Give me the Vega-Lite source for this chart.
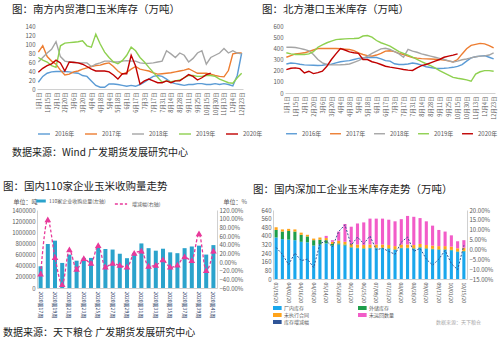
{
  "$schema": "https://vega.github.io/schema/vega-lite/v6.json",
  "padding": {"left": 3, "top": 4, "right": 2, "bottom": 2},
  "background": "white",
  "config": {
    "font": "Noto Sans CJK SC",
    "view": {"stroke": null},
    "axis": {"labelFontSize": 6, "labelColor": "#595959", "domainColor": "#d0d0d0", "tickColor": "#d0d0d0", "grid": false, "titleFontSize": 6, "titleFontWeight": "normal", "titleColor": "#595959"},
    "legend": {"labelFontSize": 6, "labelColor": "#595959"},
    "title": {"fontSize": 10.5, "fontWeight": "normal", "color": "#222222", "anchor": "start", "frame": "group"}
  },
  "datasets": {
    "south": [
      {"d":"1月1日","2016年":15,"2017年":82,"2018年":60,"2019年":70,"2020年":37},
      {"d":"1月8日","2016年":28,"2017年":96,"2018年":70,"2019年":64,"2020年":46},
      {"d":"1月15日","2016年":35,"2017年":72,"2018年":80,"2019年":60,"2020年":52},
      {"d":"1月22日","2016年":38,"2017年":62,"2018年":88,"2019年":52,"2020年":56},
      {"d":"2月1日","2016年":39,"2017年":55,"2018年":105,"2019年":48,"2020年":64},
      {"d":"2月10日","2016年":39,"2017年":42,"2018年":72,"2019年":96,"2020年":58},
      {"d":"2月20日","2016年":39,"2017年":31,"2018年":62,"2019年":102,"2020年":40},
      {"d":"2月27日","2016年":38,"2017年":33,"2018年":60,"2019年":103,"2020年":60},
      {"d":"3月6日","2016年":36,"2017年":38,"2018年":60,"2019年":104,"2020年":59},
      {"d":"3月13日","2016年":35,"2017年":40,"2018年":58,"2019年":105,"2020年":58},
      {"d":"3月20日","2016年":30,"2017年":44,"2018年":58,"2019年":107,"2020年":55},
      {"d":"3月27日","2016年":28,"2017年":47,"2018年":58,"2019年":96,"2020年":50},
      {"d":"4月4日","2016年":18,"2017年":50,"2018年":50,"2019年":93,"2020年":44},
      {"d":"4月11日","2016年":8,"2017年":52,"2018年":55,"2019年":122,"2020年":40},
      {"d":"4月18日","2016年":4,"2017年":53,"2018年":58,"2019年":100,"2020年":40},
      {"d":"4月25日","2016年":4,"2017年":56,"2018年":62,"2019年":82,"2020年":40},
      {"d":"5月4日","2016年":11,"2017年":58,"2018年":62,"2019年":70,"2020年":38},
      {"d":"5月11日","2016年":11,"2017年":50,"2018年":60,"2019年":60,"2020年":31},
      {"d":"5月18日","2016年":10,"2017年":40,"2018年":60,"2019年":56,"2020年":22},
      {"d":"5月25日","2016年":8,"2017年":33,"2018年":62,"2019年":63,"2020年":34},
      {"d":"6月1日","2016年":6,"2017年":37,"2018年":63,"2019年":75,"2020年":34},
      {"d":"6月8日","2016年":8,"2017年":44,"2018年":62,"2019年":93,"2020年":75},
      {"d":"6月17日","2016年":6,"2017年":50,"2018年":62,"2019年":85,"2020年":51},
      {"d":"6月24日","2016年":10,"2017年":44,"2018年":58,"2019年":70,"2020年":11},
      {"d":"7月3日","2016年":15,"2017年":42,"2018年":57,"2019年":60,"2020年":18},
      {"d":"7月10日","2016年":22,"2017年":40,"2018年":57,"2019年":48,"2020年":22},
      {"d":"7月17日","2016年":28,"2017年":36,"2018年":58,"2019年":37,"2020年":18},
      {"d":"7月24日","2016年":30,"2017年":33,"2018年":60,"2019年":26,"2020年":14},
      {"d":"7月31日","2016年":28,"2017年":34,"2018年":62,"2019年":15,"2020年":14},
      {"d":"8月7日","2016年":22,"2017年":35,"2018年":85,"2019年":18,"2020年":18},
      {"d":"8月14日","2016年":15,"2017年":36,"2018年":78,"2019年":16,"2020年":14},
      {"d":"8月21日","2016年":12,"2017年":38,"2018年":70,"2019年":18,"2020年":18},
      {"d":"8月28日","2016年":10,"2017年":40,"2018年":80,"2019年":20,"2020年":18},
      {"d":"9月4日","2016年":8,"2017年":42,"2018年":75,"2019年":25,"2020年":25},
      {"d":"9月11日","2016年":10,"2017年":45,"2018年":60,"2019年":30,"2020年":32},
      {"d":"9月18日","2016年":10,"2017年":40,"2018年":68,"2019年":30,"2020年":28},
      {"d":"9月25日","2016年":12,"2017年":35,"2018年":80,"2019年":28,"2020年":20},
      {"d":"10月8日","2016年":12,"2017年":35,"2018年":85,"2019年":28,"2020年":25},
      {"d":"10月15日","2016年":10,"2017年":35,"2018年":55,"2019年":30,"2020年":32},
      {"d":"10月23日","2016年":10,"2017年":33,"2018年":70,"2019年":30,"2020年":35},
      {"d":"10月30日","2016年":12,"2017年":30,"2018年":75,"2019年":28},
      {"d":"11月6日","2016年":10,"2017年":28,"2018年":80,"2019年":22},
      {"d":"11月13日","2016年":12,"2017年":27,"2018年":90,"2019年":18},
      {"d":"11月20日","2016年":10,"2017年":41,"2018年":80,"2019年":14},
      {"d":"12月4日","2016年":7,"2017年":78,"2018年":85,"2019年":13},
      {"d":"12月11日","2016年":30,"2017年":80,"2018年":80,"2019年":25},
      {"d":"12月23日","2016年":80,"2017年":80,"2018年":78,"2019年":35}
    ],
    "north": [
      {"d":"1月1日","2016年":260,"2017年":320,"2018年":410,"2019年":360,"2020年":210},
      {"d":"1月8日","2016年":268,"2017年":335,"2018年":410,"2019年":350,"2020年":222},
      {"d":"1月15日","2016年":265,"2017年":350,"2018年":408,"2019年":345,"2020年":225},
      {"d":"1月22日","2016年":258,"2017年":355,"2018年":400,"2019年":345,"2020年":218},
      {"d":"2月1日","2016年":252,"2017年":360,"2018年":390,"2019年":345,"2020年":180},
      {"d":"2月10日","2016年":250,"2017年":372,"2018年":378,"2019年":350,"2020年":195},
      {"d":"2月20日","2016年":248,"2017年":385,"2018年":345,"2019年":370,"2020年":174},
      {"d":"2月27日","2016年":246,"2017年":398,"2018年":300,"2019年":410,"2020年":182},
      {"d":"3月6日","2016年":248,"2017年":399,"2018年":270,"2019年":430,"2020年":195},
      {"d":"3月13日","2016年":255,"2017年":399,"2018年":255,"2019年":450,"2020年":240},
      {"d":"3月20日","2016年":258,"2017年":398,"2018年":252,"2019年":465,"2020年":300},
      {"d":"3月27日","2016年":270,"2017年":398,"2018年":252,"2019年":478,"2020年":350},
      {"d":"4月4日","2016年":280,"2017年":396,"2018年":253,"2019年":482,"2020年":398},
      {"d":"4月11日","2016年":285,"2017年":393,"2018年":255,"2019年":485,"2020年":385},
      {"d":"4月18日","2016年":290,"2017年":390,"2018年":260,"2019年":487,"2020年":368},
      {"d":"4月25日","2016年":300,"2017年":380,"2018年":275,"2019年":488,"2020年":360},
      {"d":"5月4日","2016年":310,"2017年":360,"2018年":290,"2019年":490,"2020年":355},
      {"d":"5月11日","2016年":315,"2017年":345,"2018年":310,"2019年":510,"2020年":300},
      {"d":"5月18日","2016年":318,"2017年":335,"2018年":330,"2019年":515,"2020年":300},
      {"d":"5月25日","2016年":320,"2017年":330,"2018年":355,"2019年":500,"2020年":280},
      {"d":"6月1日","2016年":318,"2017年":340,"2018年":375,"2019年":470,"2020年":270},
      {"d":"6月8日","2016年":305,"2017年":355,"2018年":395,"2019年":450,"2020年":255},
      {"d":"6月17日","2016年":290,"2017年":375,"2018年":400,"2019年":435,"2020年":240},
      {"d":"6月24日","2016年":285,"2017年":378,"2018年":390,"2019年":420,"2020年":232},
      {"d":"7月3日","2016年":262,"2017年":370,"2018年":370,"2019年":395,"2020年":225},
      {"d":"7月10日","2016年":255,"2017年":355,"2018年":350,"2019年":370,"2020年":218},
      {"d":"7月17日","2016年":255,"2017年":345,"2018年":320,"2019年":355,"2020年":210},
      {"d":"7月24日","2016年":260,"2017年":330,"2018年":390,"2019年":340,"2020年":205},
      {"d":"7月31日","2016年":268,"2017年":318,"2018年":375,"2019年":322,"2020年":202},
      {"d":"8月7日","2016年":262,"2017年":312,"2018年":365,"2019年":300,"2020年":225},
      {"d":"8月14日","2016年":250,"2017年":308,"2018年":350,"2019年":280,"2020年":245},
      {"d":"8月21日","2016年":235,"2017年":306,"2018年":340,"2019年":262,"2020年":255},
      {"d":"8月28日","2016年":228,"2017年":304,"2018年":330,"2019年":245,"2020年":270},
      {"d":"9月4日","2016年":222,"2017年":302,"2018年":320,"2019年":225,"2020年":285},
      {"d":"9月11日","2016年":220,"2017年":300,"2018年":310,"2019年":200,"2020年":300},
      {"d":"9月18日","2016年":222,"2017年":295,"2018年":300,"2019年":180,"2020年":320},
      {"d":"9月25日","2016年":225,"2017年":288,"2018年":288,"2019年":160,"2020年":330},
      {"d":"10月8日","2016年":230,"2017年":278,"2018年":278,"2019年":140,"2020年":339},
      {"d":"10月15日","2016年":238,"2017年":300,"2018年":285,"2019年":132,"2020年":350},
      {"d":"10月23日","2016年":255,"2017年":350,"2018年":298,"2019年":125},
      {"d":"10月30日","2016年":285,"2017年":396,"2018年":305,"2019年":118},
      {"d":"11月6日","2016年":315,"2017年":426,"2018年":315,"2019年":105},
      {"d":"11月13日","2016年":325,"2017年":435,"2018年":325,"2019年":170},
      {"d":"11月20日","2016年":330,"2017年":444,"2018年":330,"2019年":190},
      {"d":"12月4日","2016年":335,"2017年":440,"2018年":332,"2019年":200},
      {"d":"12月11日","2016年":320,"2017年":425,"2018年":340,"2019年":200},
      {"d":"12月23日","2016年":305,"2017年":405,"2018年":360,"2019年":195}
    ],
    "buy": [
      {"w":"2020第17周","收购量":390000,"增减幅":-0.28},
      {"w":"2020第18周","收购量":790000,"增减幅":0.97},
      {"w":"2020第19周","收购量":850000,"增减幅":0.10},
      {"w":"2020第20周","收购量":450000,"增减幅":-0.52},
      {"w":"2020第21周","收购量":600000,"增减幅":0.28},
      {"w":"2020第22周","收购量":490000,"增减幅":-0.17},
      {"w":"2020第23周","收购量":540000,"增减幅":0.08},
      {"w":"2020第24周","收购量":540000,"增减幅":-0.03},
      {"w":"2020第25周","收购量":730000,"增减幅":0.38},
      {"w":"2020第26周","收购量":700000,"增减幅":-0.12},
      {"w":"2020第27周","收购量":690000,"增减幅":-0.03},
      {"w":"2020第28周","收购量":615000,"增减幅":-0.08},
      {"w":"2020第29周","收购量":535000,"增减幅":-0.12},
      {"w":"2020第30周","收购量":630000,"增减幅":0.20},
      {"w":"2020第31周","收购量":800000,"增减幅":0.25},
      {"w":"2020第32周","收购量":715000,"增减幅":-0.10},
      {"w":"2020第33周","收购量":670000,"增减幅":-0.08},
      {"w":"2020第34周","收购量":705000,"增减幅":0.05},
      {"w":"2020第35周","收购量":640000,"增减幅":-0.12},
      {"w":"2020第36周","收购量":625000,"增减幅":-0.07},
      {"w":"2020第37周","收购量":715000,"增减幅":0.12},
      {"w":"2020第38周","收购量":745000,"增减幅":0.03},
      {"w":"2020第39周","收购量":760000,"增减幅":0.65},
      {"w":"2020第40周","收购量":600000,"增减幅":-0.20},
      {"w":"2020第41周","收购量":770000,"增减幅":0.25}
    ],
    "deep": [
      {"d":"03/19/20","厂内库存":385,"外储库存":70,"未执行合同":25,"未运回数量":0,"增减幅":0.01},
      {"d":"03/26/20","厂内库存":370,"外储库存":70,"未执行合同":20,"未运回数量":0,"增减幅":-0.025},
      {"d":"04/02/20","厂内库存":365,"外储库存":80,"未执行合同":20,"未运回数量":0,"增减幅":-0.077},
      {"d":"04/09/20","厂内库存":360,"外储库存":80,"未执行合同":20,"未运回数量":0,"增减幅":-0.018},
      {"d":"04/16/20","厂内库存":345,"外储库存":65,"未执行合同":20,"未运回数量":0,"增减幅":-0.057},
      {"d":"04/23/20","厂内库存":340,"外储库存":55,"未执行合同":15,"未运回数量":0,"增减幅":-0.049},
      {"d":"04/30/20","厂内库存":310,"外储库存":50,"未执行合同":15,"未运回数量":0,"增减幅":-0.092},
      {"d":"05/07/20","厂内库存":320,"外储库存":45,"未执行合同":20,"未运回数量":0,"增减幅":0.029},
      {"d":"05/14/20","厂内库存":330,"外储库存":30,"未执行合同":20,"未运回数量":20,"增减幅":0.044},
      {"d":"05/21/20","厂内库存":310,"外储库存":15,"未执行合同":20,"未运回数量":15,"增减幅":0.013},
      {"d":"05/28/20","厂内库存":320,"外储库存":10,"未执行合同":25,"未运回数量":85,"增减幅":0.091},
      {"d":"06/04/20","厂内库存":310,"外储库存":10,"未执行合同":25,"未运回数量":165,"增减幅":0.125},
      {"d":"06/11/20","厂内库存":290,"外储库存":5,"未执行合同":30,"未运回数量":160,"增减幅":0.021},
      {"d":"06/18/20","厂内库存":285,"外储库存":5,"未执行合同":30,"未运回数量":195,"增减幅":0.063},
      {"d":"06/25/20","厂内库存":280,"外储库存":5,"未执行合同":30,"未运回数量":210,"增减幅":0.029},
      {"d":"07/02/20","厂内库存":285,"外储库存":5,"未执行合同":30,"未运回数量":240,"增减幅":0.068},
      {"d":"07/09/20","厂内库存":285,"外储库存":5,"未执行合同":30,"未运回数量":240,"增减幅":-0.002},
      {"d":"07/16/20","厂内库存":285,"外储库存":5,"未执行合同":30,"未运回数量":240,"增减幅":0.006},
      {"d":"07/23/20","厂内库存":280,"外储库存":5,"未执行合同":30,"未运回数量":235,"增减幅":-0.01},
      {"d":"07/30/20","厂内库存":270,"外储库存":5,"未执行合同":30,"未运回数量":230,"增减幅":-0.025},
      {"d":"08/06/20","厂内库存":285,"外储库存":5,"未执行合同":30,"未运回数量":235,"增减幅":0.037},
      {"d":"08/13/20","厂内库存":285,"外储库存":5,"未执行合同":30,"未运回数量":265,"增减幅":0.063},
      {"d":"08/20/20","厂内库存":280,"外储库存":5,"未执行合同":30,"未运回数量":262,"增减幅":-0.01},
      {"d":"08/27/20","厂内库存":290,"外储库存":5,"未执行合同":30,"未运回数量":240,"增减幅":0.006},
      {"d":"09/03/20","厂内库存":280,"外储库存":5,"未执行合同":30,"未运回数量":220,"增减幅":-0.049},
      {"d":"09/10/20","厂内库存":275,"外储库存":5,"未执行合同":30,"未运回数量":185,"增减幅":-0.08},
      {"d":"09/17/20","厂内库存":270,"外储库存":5,"未执行合同":30,"未运回数量":150,"增减幅":-0.049},
      {"d":"09/24/20","厂内库存":270,"外储库存":5,"未执行合同":30,"未运回数量":135,"增减幅":-0.005},
      {"d":"10/01/20","厂内库存":265,"外储库存":5,"未执行合同":30,"未运回数量":105,"增减幅":-0.072},
      {"d":"10/08/20","厂内库存":250,"外储库存":5,"未执行合同":30,"未运回数量":65,"增减幅":-0.103},
      {"d":"10/15/20","厂内库存":255,"外储库存":5,"未执行合同":30,"未运回数量":70,"增减幅":0.021}
    ]
  },
  "vconcat": [
    {
      "title": {"text": "数据来源：Wind 广发期货发展研究中心", "orient": "bottom", "anchor": "start", "frame": "bounds", "fontSize": 10, "offset": 11},
      "bounds": "flush",
      "spacing": 42,
      "hconcat": [
        {
          "title": {"text": "图：南方内贸港口玉米库存（万吨）", "offset": 8, "dx": -25},
          "width": 206, "height": 63,
          "data": {"name": "south"},
          "transform": [{"fold": ["2016年","2017年","2018年","2019年","2020年"], "as": ["年份","库存"]}],
          "mark": {"type": "line"},
          "encoding": {
            "x": {"field": "d", "type": "nominal", "sort": null, "scale": {"type": "point", "padding": 0.3},
                  "axis": {"title": null, "labelAngle": -90, "labelFontSize": 5.5, "ticks": false, "labelPadding": 3,
                           "values": ["1月1日","1月15日","2月1日","2月20日","3月6日","3月20日","4月4日","4月18日","5月4日","5月18日","6月1日","6月17日","7月3日","7月17日","7月31日","8月14日","8月28日","9月11日","9月25日","10月15日","10月30日","11月13日","12月4日","12月23日"]}},
            "y": {"field": "库存", "type": "quantitative", "scale": {"domain": [0, 140]},
                  "axis": {"title": null, "values": [0,20,40,60,80,100,120,140], "domain": false, "ticks": false}},
            "color": {"field": "年份", "type": "nominal",
                      "scale": {"domain": ["2016年","2017年","2018年","2019年","2020年"], "range": ["#5B9BD5","#ED7D31","#A5A5A5","#8ED04F","#C00000"]},
                      "legend": {"orient": "bottom", "direction": "horizontal", "title": null, "symbolType": "stroke", "symbolStrokeWidth": 2, "symbolSize": 144, "columnPadding": 7, "offset": 11}},
            "strokeWidth": {"field": "年份", "type": "nominal", "scale": {"domain": ["2016年","2017年","2018年","2019年","2020年"], "range": [1.4,1.4,1.4,2.2,2.6]}, "legend": null}
          }
        },
        {
          "title": {"text": "图：北方港口玉米库存（万吨）", "offset": 8, "dx": -23},
          "width": 210, "height": 67,
          "data": {"name": "north"},
          "transform": [{"fold": ["2016年","2017年","2018年","2019年","2020年"], "as": ["年份","库存"]}],
          "mark": {"type": "line"},
          "encoding": {
            "x": {"field": "d", "type": "nominal", "sort": null, "scale": {"type": "point", "padding": 0.3},
                  "axis": {"title": null, "labelAngle": -90, "labelFontSize": 5.5, "ticks": false, "labelPadding": 3,
                           "values": ["1月1日","1月15日","2月1日","2月20日","3月6日","3月20日","4月4日","4月18日","5月4日","5月18日","6月1日","6月17日","7月3日","7月17日","7月31日","8月14日","8月28日","9月11日","9月25日","10月15日","10月30日","11月13日","12月4日","12月23日"]}},
            "y": {"field": "库存", "type": "quantitative", "scale": {"domain": [0, 600]},
                  "axis": {"title": null, "values": [0,100,200,300,400,500,600], "domain": false, "ticks": false}},
            "color": {"field": "年份", "type": "nominal",
                      "scale": {"domain": ["2016年","2017年","2018年","2019年","2020年"], "range": ["#5B9BD5","#ED7D31","#A5A5A5","#8ED04F","#C00000"]},
                      "legend": {"orient": "bottom", "direction": "horizontal", "title": null, "symbolType": "stroke", "symbolStrokeWidth": 2, "symbolSize": 120, "columnPadding": 5, "offset": 7}},
            "strokeWidth": {"field": "年份", "type": "nominal", "scale": {"domain": ["2016年","2017年","2018年","2019年","2020年"], "range": [1.4,1.4,1.4,2.2,2.6]}, "legend": null}
          }
        }
      ],
      "resolve": {"scale": {"color": "independent", "strokeWidth": "independent"}}
    },
    {
      "title": {"text": "数据来源：天下粮仓 广发期货发展研究中心", "orient": "bottom", "anchor": "start", "frame": "bounds", "fontSize": 10, "offset": 3},
      "bounds": "flush",
      "spacing": 56,
      "hconcat": [
        {
          "title": {"text": "图：国内110家企业玉米收购量走势", "offset": 5, "dx": -34},
          "width": 180, "height": 78,
          "data": {"name": "buy"},
          "encoding": {
            "x": {"field": "w", "type": "nominal", "sort": null,
                  "axis": {"title": null, "labelAngle": 90, "labelFontSize": 5, "ticks": false, "labelPadding": 3, "labelColor": "#1F3864",
                           "values": ["2020第17周","2020第19周","2020第21周","2020第23周","2020第25周","2020第27周","2020第29周","2020第31周","2020第33周","2020第35周","2020第37周","2020第39周","2020第41周"]}}
          },
          "layer": [
            {
              "mark": {"type": "bar", "width": {"band": 0.62}},
              "encoding": {
                "y": {"field": "收购量", "type": "quantitative", "scale": {"domain": [0, 1400000]},
                      "axis": {"values": [0,200000,400000,600000,800000,1000000,1200000,1400000], "format": "d", "ticks": false,
                               "title": "单位：吨", "titleAngle": 0, "titleAlign": "left", "titleBaseline": "bottom", "titleX": -24, "titleY": -6}},
                "fill": {"datum": "110家企业收购总量(左轴)", "type": "nominal",
                         "scale": {"range": ["#2BA3CC"]},
                         "legend": {"orient": "top", "title": null, "labelFontSize": 5, "symbolType": "M-1.6,-0.5H1.6V0.5H-1.6Z", "symbolSize": 36, "offset": 3}}
              }
            },
            {
              "mark": {"type": "line", "strokeDash": [3, 2], "strokeWidth": 1.3, "interpolate": "monotone", "point": {"shape": "triangle-up", "size": 10, "filled": true, "fill": "#E8399A"}},
              "encoding": {
                "y": {"field": "增减幅", "type": "quantitative", "scale": {"domain": [-0.6, 1.2]},
                      "axis": {"orient": "right", "format": ".2%", "values": [-0.6,-0.4,-0.2,0,0.2,0.4,0.6,0.8,1.0,1.2], "ticks": false,
                               "title": "单位：%", "titleAngle": 0, "titleAlign": "left", "titleBaseline": "bottom", "titleX": 6, "titleY": -6}},
                "stroke": {"datum": "增减幅(右轴)", "type": "nominal",
                           "scale": {"range": ["#E8399A"]},
                           "legend": {"orient": "top", "title": null, "labelFontSize": 5, "symbolType": "stroke", "symbolDash": [3, 2], "symbolStrokeWidth": 1.3, "symbolSize": 150, "offset": 3}}
              }
            }
          ],
          "resolve": {"scale": {"y": "independent"}}
        },
        {
          "title": {"text": "图：国内深加工企业玉米库存走势（万吨）", "offset": 12, "dx": -20},
          "width": 194, "height": 69,
          "data": {"name": "deep"},
          "encoding": {
            "x": {"field": "d", "type": "nominal", "sort": null,
                  "axis": {"title": null, "labelAngle": 90, "labelFontSize": 5, "ticks": false, "labelPadding": 3,
                           "values": ["03/19/20","04/02/20","04/16/20","04/30/20","05/14/20","05/28/20","06/11/20","06/25/20","07/09/20","07/23/20","08/06/20","08/20/20","09/03/20","09/17/20","10/01/20","10/15/20"]}}
          },
          "layer": [
            {
              "transform": [{"fold": ["厂内库存","外储库存","未执行合同","未运回数量"], "as": ["类别","万吨"]}],
              "mark": {"type": "bar", "width": {"band": 0.55}},
              "encoding": {
                "y": {"field": "万吨", "type": "quantitative", "stack": "zero", "scale": {"domain": [0, 640]},
                      "axis": {"title": null, "values": [0,80,160,240,320,400,480,560,640], "ticks": false}},
                "order": {"field": "类别", "type": "ordinal", "sort": "ascending"},
                "color": {"field": "类别", "type": "nominal", "sort": ["厂内库存","外储库存","未执行合同","未运回数量","库存增减幅"],
                          "scale": {"domain": ["厂内库存","外储库存","未执行合同","未运回数量","库存增减幅"], "range": ["#1AA7EC","#1E9E4A","#FFA31A","#F25CC8","#2F5597"]},
                          "legend": {"orient": "bottom", "columns": 2, "title": "数据来源：天下粮仓", "titleOrient": "right", "titleAnchor": "end", "titleFontSize": 5, "titleFontWeight": "normal", "titleColor": "#aaaaaa", "titlePadding": 42,
                                     "labelFontSize": 5, "symbolType": "M-1.6,-0.5H1.6V0.5H-1.6Z", "symbolSize": 30, "clipHeight": 6, "columnPadding": 48, "rowPadding": 1, "offset": 2}}
              }
            },
            {
              "mark": {"type": "line", "strokeDash": [2, 1.5], "strokeWidth": 1},
              "encoding": {
                "y": {"field": "增减幅", "type": "quantitative", "scale": {"domain": [-0.15, 0.2]},
                      "axis": {"orient": "right", "format": ".2%", "title": null, "values": [-0.15,-0.1,-0.05,0,0.05,0.1,0.15,0.2], "ticks": false}},
                "color": {"datum": "库存增减幅", "type": "nominal"}
              }
            }
          ],
          "resolve": {"scale": {"y": "independent"}}
        }
      ],
      "resolve": {"scale": {"color": "independent", "fill": "independent", "stroke": "independent"}}
    }
  ],
  "spacing": 23
}
